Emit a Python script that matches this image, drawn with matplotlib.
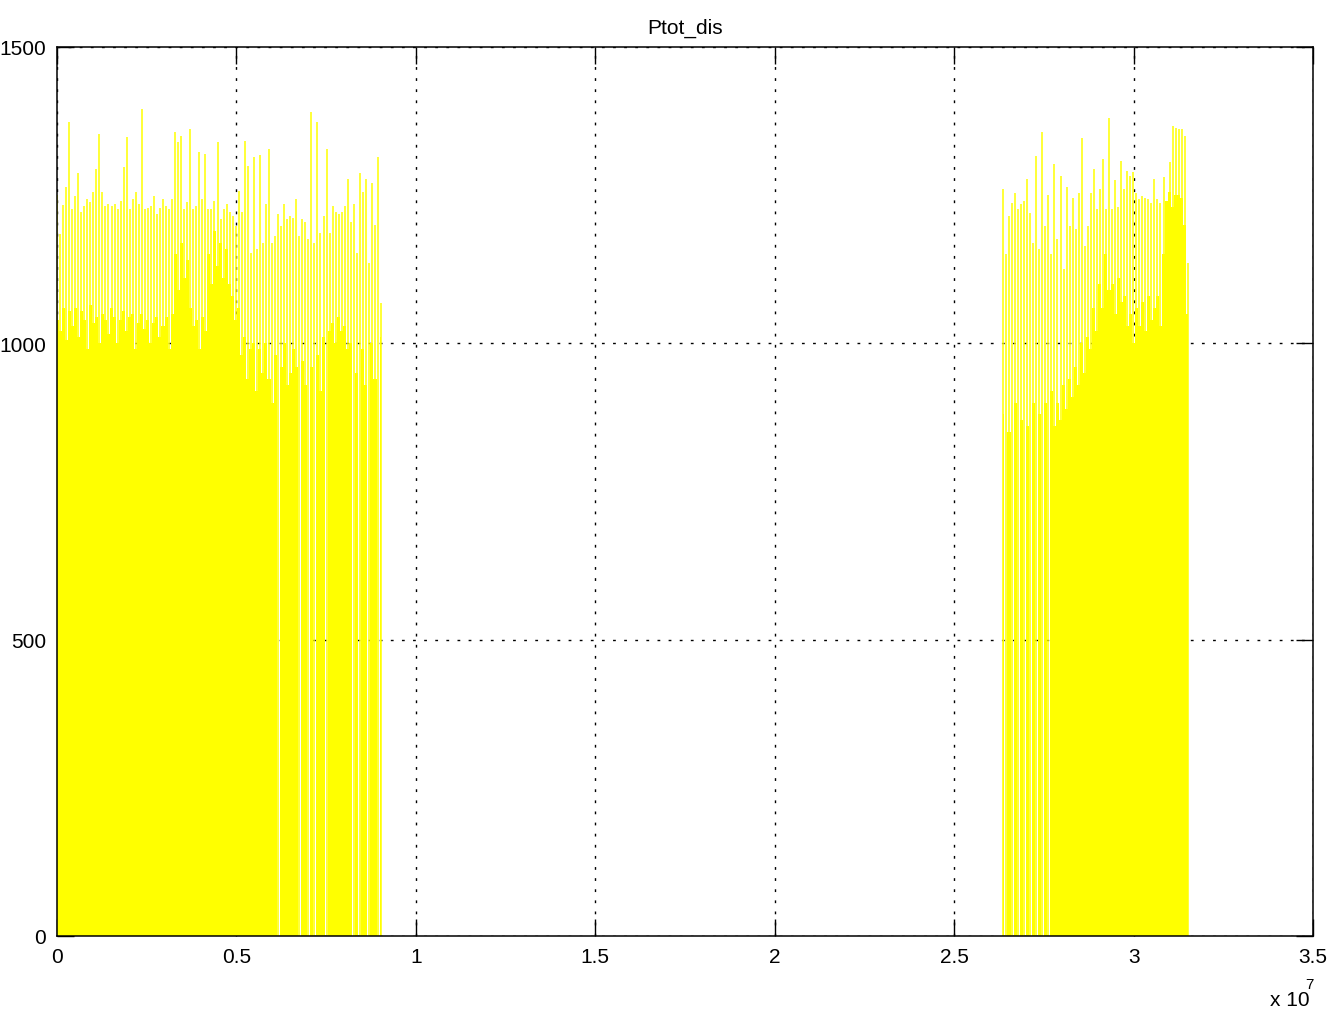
import numpy as np
import matplotlib
matplotlib.use('agg')
import matplotlib.pyplot as plt

plt.rcParams['font.family'] = ['Liberation Sans', 'DejaVu Sans']

# first block of activity, x from 0 to 0.903e7
block1_start = 0.0
block1_end = 0.903e7
# height of the thin spikes
peak1 = [1250, 1185, 1233, 1264, 1373, 1226, 1249, 1288, 1221, 1232,
         1243, 1238, 1255, 1294, 1353, 1255, 1232, 1235, 1232, 1235,
         1226, 1240, 1297, 1348, 1226, 1243, 1255, 1235, 1395, 1226,
         1229, 1232, 1249, 1218, 1229, 1243, 1232, 1226, 1243, 1356,
         1339, 1350, 1226, 1238, 1361, 1226, 1232, 1322, 1243, 1319,
         1226, 1226, 1240, 1339, 1209, 1226, 1235, 1221, 1215, 1198,
         1257, 1221, 1342, 1300, 1153, 1314, 1159, 1317, 1170, 1235,
         1328, 1170, 1181, 1218, 1198, 1235, 1209, 1215, 1212, 1243,
         1181, 1209, 1204, 1176, 1390, 1170, 1373, 1187, 1215, 1328,
         1187, 1232, 1221, 1218, 1221, 1232, 1277, 1204, 1235, 1153,
         1288, 1255, 1277, 1136, 1271, 1200, 1314, 1068]
# top of the dense (solid) part
level1 = [1040, 1020, 1060, 1005, 1055, 1030, 1060, 1010, 1055, 1040,
          990, 1065, 1035, 1045, 1000, 1050, 1040, 1015, 1060, 1045,
          1000, 1040, 1055, 1020, 1045, 1050, 990, 1035, 1050, 1025,
          1040, 1000, 1035, 1045, 1010, 1030, 1045, 990, 1050, 1150,
          1090, 1170, 1110, 1140, 1060, 1030, 1040, 990, 1045, 1020,
          1150, 1100, 1190, 1130, 1170, 1110, 1160, 1100, 1080, 1040,
          1060, 980, 1010, 940, 990, 1000, 920, 990, 950, 1000,
          940, 900, 980, 0, 960, 1000, 930, 950, 990, 960,
          0, 970, 930, 0, 960, 0, 980, 920, 1010, 0,
          1020, 1035, 1000, 1045, 1020, 1030, 990, 1000, 0, 950,
          0, 990, 930, 0, 1000, 940, 0, 1010]

# second block, x from 2.636e7 to 3.151e7
block2_start = 2.636e7
block2_end = 3.151e7
peak2 = [1260, 1150, 1215, 1237, 1254, 1226, 1235, 1240, 1277, 1220,
         1170, 1316, 1160, 1356, 1198, 1250, 1150, 1302, 1176, 1283,
         1125, 1263, 1198, 1245, 1193, 1254, 1347, 1165, 1198, 1254,
         1294, 1226, 1260, 1311, 1226, 1381, 1226, 1275, 1230, 1308,
         1260, 1290, 1283, 1289, 1254, 1243, 1248, 1246, 1243, 1237,
         1277, 1243, 1237, 1281, 1226, 1306, 1367, 1364, 1361, 1361,
         1350, 1136]
level2 = [880, 0, 850, 0, 900, 0, 870, 0, 860, 0,
          900, 0, 880, 0, 900, 0, 920, 860, 900, 870,
          930, 890, 940, 910, 960, 930, 1000, 950, 1010, 990,
          1060, 1020, 1100, 1060, 1150, 1090, 1100, 1050, 1110, 1070,
          1080, 1030, 1050, 1000, 1060, 1030, 1070, 1020, 1080, 1040,
          1060, 1080, 1030, 1150, 1240, 1255, 1230, 1250, 1250, 1245,
          1200, 1050]

xticks = [0, 0.5e7, 1e7, 1.5e7, 2e7, 2.5e7, 3e7, 3.5e7]
xticklabels = ['0', '0.5', '1', '1.5', '2', '2.5', '3', '3.5']
yticks = [0, 500, 1000, 1500]

fig = plt.figure(figsize=(13.44, 10.12), dpi=100)
ax = fig.add_axes([57/1344, 75/1012, 1256/1344, 889/1012])

yellow = '#ffff00'
for start, end, peaks, levels in [(block1_start, block1_end, peak1, level1),
                                  (block2_start, block2_end, peak2, level2)]:
    x = np.linspace(start, end, len(peaks))
    ax.fill_between(x, 0, levels, step='mid', color=yellow, lw=0, zorder=2)
    ax.vlines(x, 0, peaks, color=yellow, lw=1.1, zorder=2)

ax.set_xlim(0, 3.5e7)
ax.set_ylim(0, 1500)
ax.set_xticks(xticks)
ax.set_xticklabels(xticklabels)
ax.set_yticks(yticks)

ax.set_axisbelow(True)
ax.grid(True, color='black', linestyle=(0, (2, 6)), linewidth=1.0)
ax.tick_params(direction='in', length=12, width=1, top=True, right=True,
               labelsize=15, pad=8)
for s in ax.spines.values():
    s.set_linewidth(1.1)

ax.set_title('Ptot_dis', fontsize=15, pad=10)

# matlab style exponent below the x axis
fig.text(1270/1344, 1 - 1001/1012, 'x 10', fontsize=15, va='center', ha='left')
fig.text(1305/1344, 1 - 985/1012, '7', fontsize=11, va='center', ha='left')

plt.savefig('out.png', dpi=100)
